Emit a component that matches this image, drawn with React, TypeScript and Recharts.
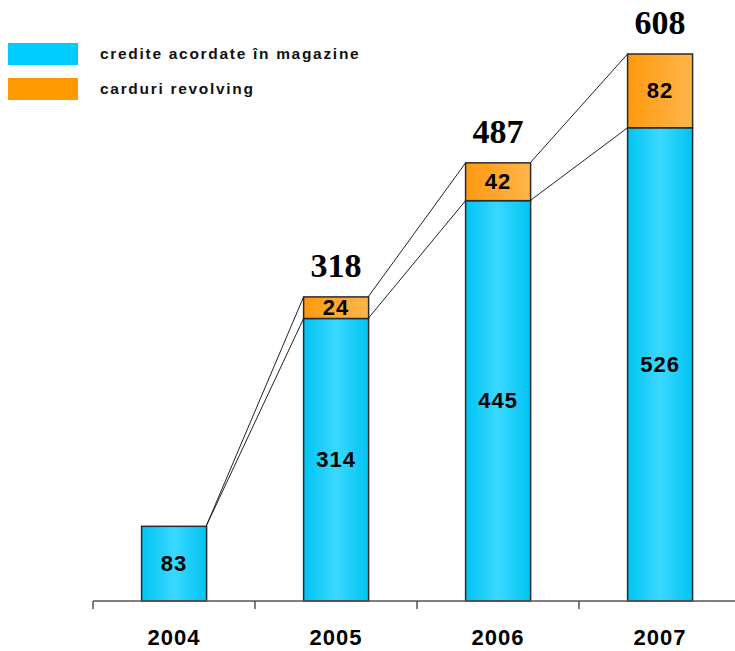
import { BarChart, Bar, XAxis, YAxis, Legend, LabelList } from "recharts";

const years = ["2004", "2005", "2006", "2007"];
const magazine = [83, 314, 445, 526];
const revolving = [0, 24, 42, 82];
const totalLabels = ["", "318", "487", "608"];

const GAP = 0.3;
const BLUE = "#00CCFF";
const ORANGE = "#FF9900";
const EDGE = "#2a2a2a";

const data = years.map((year, i) => ({
  year,
  magazine: magazine[i],
  revolving: revolving[i],
  total: totalLabels[i],
}));

function MagazineShape(props: any) {
  const { x, y, width, height } = props;
  return (
    <rect x={x} y={y} width={width} height={height} fill="url(#gBlue)" stroke={EDGE} strokeWidth={1.5} />
  );
}

function RevolvingShape(props: any) {
  const { x, y, width, height, index, payload } = props;
  const out: any[] = [];
  if (height > 0) {
    out.push(
      <rect key="r" x={x} y={y} width={width} height={height} fill="url(#gOrange)" stroke={EDGE} strokeWidth={1.5} />
    );
  }
  if (index > 0 && payload.revolving > 0) {
    // previous bar's corners, worked out from this bar's own scale
    const k = height / payload.revolving;
    const base = y + height + payload.magazine * k;
    const step = width / (1 - 2 * GAP);
    const px = x - step + width;
    const prevBlue = magazine[index - 1];
    const prevTotal = prevBlue + revolving[index - 1];
    out.push(
      <line key="a" x1={px} y1={base - prevTotal * k} x2={x} y2={y} stroke="#222" strokeWidth={1} />,
      <line key="b" x1={px} y1={base - prevBlue * k} x2={x} y2={y + height} stroke="#222" strokeWidth={1} />
    );
  }
  return <g>{out}</g>;
}

function YearTick(props: any) {
  const { x, y, payload } = props;
  const half = payload.offset ?? 81;
  return (
    <g>
      <line x1={x - half} y1={y - 8} x2={x - half} y2={y} stroke="#555" strokeWidth={1.5} />
      <text x={x} y={y + 36} textAnchor="middle" fontSize={22} fontWeight="bold" letterSpacing={1} fill="#000">
        {payload.value}
      </text>
    </g>
  );
}

function SegmentLabel(p: any) {
  const v = p.viewBox ?? p;
  if (!p.value) return null;
  return (
    <text
      x={v.x + v.width / 2}
      y={v.y + v.height / 2}
      textAnchor="middle"
      dominantBaseline="central"
      fontSize={22}
      fontWeight="bold"
      letterSpacing={1}
      fill="#000"
    >
      {p.value}
    </text>
  );
}

function TotalLabel(p: any) {
  const v = p.viewBox ?? p;
  if (!p.value) return null;
  return (
    <text
      x={v.x + v.width / 2}
      y={v.y - 20}
      textAnchor="middle"
      fontSize={34}
      fontWeight="bold"
      fontFamily="'Liberation Serif', 'Times New Roman', serif"
      fill="#000"
    >
      {p.value}
    </text>
  );
}

function LegendBox() {
  const items = [
    { label: "credite acordate în magazine", color: BLUE },
    { label: "carduri revolving", color: ORANGE },
  ];
  return (
    <div>
      {items.map((it) => (
        <div key={it.label} style={{ display: "flex", alignItems: "center", height: 35 }}>
          <span style={{ width: 70, height: 22, background: it.color, display: "inline-block" }} />
          <span style={{ marginLeft: 22, fontSize: 15.5, fontWeight: "bold", letterSpacing: 1.7, color: "#111" }}>
            {it.label}
          </span>
        </div>
      ))}
    </div>
  );
}

export default function App() {
  return (
    <div
      style={{
        position: "absolute",
        left: 0,
        top: 0,
        width: 735,
        height: 651,
        overflow: "hidden",
        background: "#fff",
        fontFamily: "'Liberation Sans', Arial, sans-serif",
      }}
    >
      <BarChart
        width={745}
        height={651}
        data={data}
        margin={{ top: 54, right: 4, left: 93, bottom: 0 }}
        barCategoryGap={`${GAP * 100}%`}
      >
        <defs>
          <linearGradient id="gBlue" x1="0" y1="0" x2="1" y2="0">
            <stop offset="0%" stopColor="#00C4F2" />
            <stop offset="50%" stopColor="#3AD8FF" />
            <stop offset="100%" stopColor="#00C4F2" />
          </linearGradient>
          <linearGradient id="gOrange" x1="0" y1="0" x2="1" y2="0">
            <stop offset="0%" stopColor="#FF9A10" />
            <stop offset="100%" stopColor="#FFB54A" />
          </linearGradient>
        </defs>
        <XAxis
          dataKey="year"
          height={50}
          axisLine={{ stroke: "#555", strokeWidth: 1.5 }}
          tickLine={false}
          tick={<YearTick />}
          interval={0}
        />
        <YAxis hide domain={[0, 608]} />
        <Legend
          layout="vertical"
          align="center"
          verticalAlign="middle"
          content={<LegendBox />}
          wrapperStyle={{ top: 36, left: 8, width: 420 }}
        />
        <Bar dataKey="magazine" stackId="a" shape={<MagazineShape />} isAnimationActive={false}>
          <LabelList dataKey="magazine" content={<SegmentLabel />} />
        </Bar>
        <Bar dataKey="revolving" stackId="a" shape={<RevolvingShape />} isAnimationActive={false}>
          <LabelList dataKey="revolving" content={<SegmentLabel />} />
          <LabelList dataKey="total" content={<TotalLabel />} />
        </Bar>
      </BarChart>
    </div>
  );
}
